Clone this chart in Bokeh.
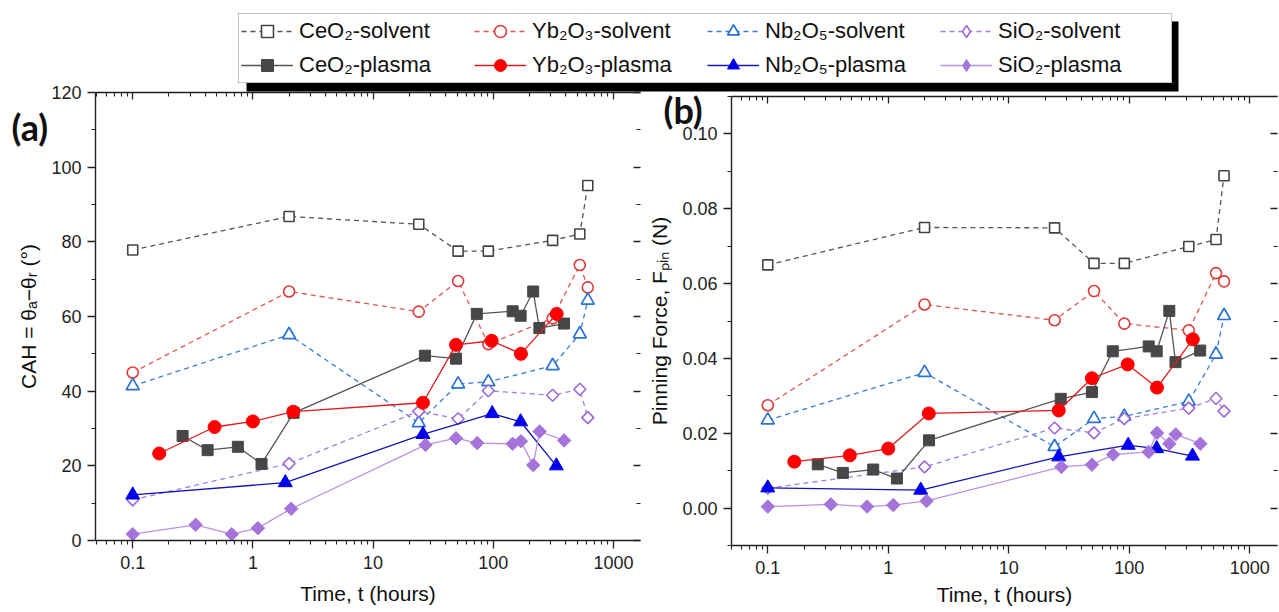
import math
from bokeh.plotting import figure
from bokeh.models import (Range1d, LinearAxis, LogAxis, FixedTicker, CustomJSTickFormatter,
                          PrintfTickFormatter, Legend, LegendItem, BoxAnnotation, Label, GridBox)
from bokeh.embed import file_html
from bokeh.resources import INLINE

# ---------------- data ----------------
t_solvent = [0.1, 2, 24, 51, 91, 312, 525, 612]
t_ceo2_plasma = [0.26, 0.42, 0.75, 1.18, 2.18, 27, 49, 73, 145, 169, 215, 242, 388]
t_yb2o3_plasma = [0.166, 0.48, 1.0, 2.17, 26, 49, 97, 170, 337]
t_nb2o5_plasma = [0.1, 1.86, 26, 98, 169, 335]
t_sio2_plasma = [0.1, 0.334, 0.667, 1.1, 2.08, 27.3, 49, 73.5, 145, 170, 215, 243, 389]

# (a) contact angle hysteresis, degrees
cah_ceo2_solvent = [77.8, 86.8, 84.7, 77.5, 77.5, 80.4, 82.1, 95.1]
cah_yb2o3_solvent = [45.0, 66.7, 61.3, 69.5, 52.6, 59.5, 73.8, 67.8]
cah_nb2o5_solvent = [41.4, 55.1, 31.5, 41.9, 42.5, 46.8, 55.3, 64.3]
cah_sio2_solvent = [10.9, 20.6, 34.6, 32.6, 40.1, 38.9, 40.5, 32.9]
cah_ceo2_plasma = [28.0, 24.2, 25.1, 20.5, 34.2, 49.5, 48.7, 60.7, 61.4, 60.2, 66.7, 56.9, 58.1]
cah_yb2o3_plasma = [23.3, 30.4, 31.9, 34.5, 36.9, 52.4, 53.5, 50.0, 60.7]
cah_nb2o5_plasma = [12.2, 15.5, 28.4, 34.0, 31.8, 20.0]
cah_sio2_plasma = [1.7, 4.2, 1.7, 3.3, 8.5, 25.6, 27.4, 26.1, 25.9, 26.6, 20.2, 29.2, 26.8]

# (b) pinning force, N
fpin_ceo2_solvent = [0.0650, 0.0750, 0.0749, 0.0654, 0.0654, 0.0699, 0.0718, 0.0888]
fpin_yb2o3_solvent = [0.0275, 0.0544, 0.0502, 0.0580, 0.0493, 0.0475, 0.0628, 0.0606]
fpin_nb2o5_solvent = [0.0235, 0.0362, 0.0164, 0.0239, 0.0245, 0.0285, 0.0411, 0.0514]
fpin_sio2_solvent = [0.0053, 0.0110, 0.0214, 0.0201, 0.0239, 0.0267, 0.0293, 0.0259]
fpin_ceo2_plasma = [0.0117, 0.0094, 0.0103, 0.0079, 0.0181, 0.0292, 0.0310, 0.0419, 0.0432,
                    0.0419, 0.0527, 0.0390, 0.0421]
fpin_yb2o3_plasma = [0.0124, 0.0141, 0.0159, 0.0253, 0.0261, 0.0347, 0.0384, 0.0322, 0.0451]
fpin_nb2o5_plasma = [0.0054, 0.0048, 0.0137, 0.0168, 0.0159, 0.0139]
fpin_sio2_plasma = [0.0004, 0.0010, 0.0004, 0.0008, 0.0019, 0.0110, 0.0116, 0.0143, 0.0150,
                    0.0201, 0.0172, 0.0197, 0.0172]

series_names = ["CeO₂-solvent", "Yb₂O₃-solvent", "Nb₂O₅-solvent", "SiO₂-solvent",
                "CeO₂-plasma", "Yb₂O₃-plasma", "Nb₂O₅-plasma", "SiO₂-plasma"]
panel_tags = ["(a)", "(b)"]

x_major = [0.1, 1, 10, 100, 1000]
x_minor = [0.05, 0.06, 0.07, 0.08, 0.09,
           0.2, 0.3, 0.4, 0.5, 0.6, 0.7, 0.8, 0.9,
           2, 3, 4, 5, 6, 7, 8, 9,
           20, 30, 40, 50, 60, 70, 80, 90,
           200, 300, 400, 500, 600, 700, 800, 900]
ya_major = [0, 20, 40, 60, 80, 100, 120]
ya_minor = [10, 30, 50, 70, 90, 110]
yb_major = [0.0, 0.02, 0.04, 0.06, 0.08, 0.10]
yb_minor = [-0.01, 0.01, 0.03, 0.05, 0.07, 0.09, 0.11]

# ---------------- styles ----------------
D45 = math.pi / 4
STY = {
    "CeO₂-solvent":  dict(lc="#555555", dash="5 4", m="square", ms=10, ang=0, fc="white", mc="#444444", mlw=1.6),
    "Yb₂O₃-solvent": dict(lc="#e05555", dash="5 4", m="circle", ms=11, ang=0, fc="white", mc="#e03a3a", mlw=1.6),
    "Nb₂O₅-solvent": dict(lc="#3a7dd0", dash="5 4", m="triangle", ms=13, ang=0, fc="white", mc="#2b72d2", mlw=1.7),
    "SiO₂-solvent":  dict(lc="#a47ddf", dash="5 4", m="square", ms=8.5, ang=D45, fc="white", mc="#9c6ad8", mlw=1.6,
                          lm="diamond", lms=13),
    "CeO₂-plasma":   dict(lc="#555555", dash="solid", m="square", ms=11, ang=0, fc="#474747", mc="#474747", mlw=1),
    "Yb₂O₃-plasma":  dict(lc="#e01a1a", dash="solid", m="circle", ms=13, ang=0, fc="#ff0000", mc="#ff0000", mlw=1),
    "Nb₂O₅-plasma":  dict(lc="#1414b4", dash="solid", m="triangle", ms=14, ang=0, fc="#0000ee", mc="#0000ee", mlw=1),
    "SiO₂-plasma":   dict(lc="#b594e4", dash="solid", m="square", ms=9.5, ang=D45, fc="#a574da", mc="#a574da", mlw=1,
                          lm="diamond", lms=15),
}

FONT = "Liberation Sans"
INK = "#222222"


def draw(p, name, t, v, legend_proxy=False):
    s = STY[name]
    marker, size, ang = s["m"], s["ms"], s["ang"]
    if legend_proxy and "lm" in s:
        marker, size, ang = s["lm"], s["lms"], 0
    lr = p.line(t, v, line_color=s["lc"], line_dash=s["dash"], line_width=1.3)
    sr = p.scatter(t, v, marker=marker, size=size, angle=ang, fill_color=s["fc"],
                   line_color=s["mc"], line_width=s["mlw"])
    return lr, sr


def style_axis(ax, labels=True):
    ax.axis_line_color = INK
    ax.axis_line_width = 1.4
    ax.major_tick_line_color = INK
    ax.minor_tick_line_color = INK
    ax.major_tick_line_width = 1.3
    ax.minor_tick_line_width = 1.1
    ax.major_tick_out = 8
    ax.major_tick_in = 0
    ax.minor_tick_out = 4
    ax.minor_tick_in = 0
    ax.major_label_text_font = FONT
    ax.major_label_text_font_size = "18px"
    ax.major_label_text_color = INK
    ax.axis_label_text_font = FONT
    ax.axis_label_text_font_size = "21px"
    ax.axis_label_text_font_style = "normal"
    ax.axis_label_text_color = "#111111"
    if not labels:
        ax.major_label_text_font_size = "1px"
        ax.major_label_text_color = None
        ax.major_label_standoff = 0
        ax.major_tick_out = 0
        ax.minor_tick_out = 0
        ax.major_tick_in = 7
        ax.minor_tick_in = 4


def make_panel(xr, yr, ymaj, ymin, yfmt, ylabel, border, xlab_standoff):
    p = figure(width=border["w"], height=612, x_axis_type="log",
               x_range=Range1d(*xr), y_range=Range1d(*yr),
               output_backend="svg", toolbar_location=None,
               min_border_left=border["l"], min_border_right=border["r"],
               min_border_top=border["t"], min_border_bottom=border["b"])
    p.frame_align = False
    p.outline_line_color = None
    p.xgrid.visible = False
    p.ygrid.visible = False
    xt = FixedTicker(ticks=x_major, minor_ticks=x_minor)
    yt = FixedTicker(ticks=ymaj, minor_ticks=ymin)
    xa = p.xaxis[0]
    xa.ticker = xt
    xa.formatter = CustomJSTickFormatter(code="return String(Number(tick.toPrecision(6)));")
    xa.axis_label = "Time, t (hours)"
    style_axis(xa)
    xa.major_label_standoff = 7
    xa.axis_label_standoff = xlab_standoff
    ya = p.yaxis[0]
    ya.ticker = yt
    ya.formatter = yfmt
    ya.axis_label = ylabel
    style_axis(ya)
    ya.major_label_standoff = 6
    ya.axis_label_standoff = 8
    top = LogAxis(ticker=xt)
    style_axis(top, labels=False)
    p.add_layout(top, "above")
    right = LinearAxis(ticker=yt)
    style_axis(right, labels=False)
    right.axis_line_color = None
    p.add_layout(right, "right")
    return p


pa = make_panel((0.049, 1680), (0, 120), ya_major, ya_minor, PrintfTickFormatter(format="%d"),
                "CAH = θₐ−θᵣ (°)", dict(w=645, l=95, r=5, t=92, b=72), 10)
pb = make_panel((0.05, 1700), (-0.01, 0.11), yb_major, yb_minor, PrintfTickFormatter(format="%.2f"),
                "Pinning Force, Fₚᵢₙ (N)", dict(w=634, l=85, r=2, t=96, b=67), 6)

t_sets = [t_solvent] * 4 + [t_ceo2_plasma, t_yb2o3_plasma, t_nb2o5_plasma, t_sio2_plasma]
a_sets = [cah_ceo2_solvent, cah_yb2o3_solvent, cah_nb2o5_solvent, cah_sio2_solvent,
          cah_ceo2_plasma, cah_yb2o3_plasma, cah_nb2o5_plasma, cah_sio2_plasma]
b_sets = [fpin_ceo2_solvent, fpin_yb2o3_solvent, fpin_nb2o5_solvent, fpin_sio2_solvent,
          fpin_ceo2_plasma, fpin_yb2o3_plasma, fpin_nb2o5_plasma, fpin_sio2_plasma]

for name, t, va, vb in zip(series_names, t_sets, a_sets, b_sets):
    draw(pa, name, t, va)
    draw(pb, name, t, vb)

# ---------------- transparent overlay: shared legend and panel tags ----------------
ov = figure(width=1279, height=612, x_range=Range1d(0, 1279), y_range=Range1d(612, 0),
            output_backend="svg", toolbar_location=None,
            x_axis_location=None, y_axis_location=None,
            min_border_left=0, min_border_right=0, min_border_top=0, min_border_bottom=0,
            background_fill_color=None, border_fill_color=None)
ov.frame_align = False
ov.outline_line_color = None
ov.xgrid.visible = False
ov.ygrid.visible = False
# legend drop shadow (overlay pixel space)
ov.add_layout(BoxAnnotation(left=246, right=1178, top=21, bottom=91,
                            fill_color="black", fill_alpha=1, line_color=None))
items = []
for name in series_names:
    # legend proxies placed outside the visible area
    lr, sr = draw(ov, name, [-500, -400], [-500, -500], legend_proxy=True)
    items.append(LegendItem(label=name, renderers=[lr, sr]))
leg = Legend(items=items, orientation="horizontal", ncols=4, location=(238, 529),
             glyph_width=52, glyph_height=30, label_width=171, label_height=30,
             label_standoff=6, spacing=4, padding=2, margin=0,
             label_text_font=FONT, label_text_font_size="22px", label_text_color="#111111",
             border_line_color="#888888", border_line_width=1,
             background_fill_color="white", background_fill_alpha=1)
ov.add_layout(leg, "center")
for tag, (tx, ty) in zip(panel_tags, [(11, 126), (663, 109)]):
    ov.add_layout(Label(x=tx, y=ty, text=tag, text_font="Lato", text_font_style="bold",
                        text_font_size="36px", text_color="#111111",
                        text_baseline="middle", text_align="left"))

layout = GridBox(children=[(pa, 0, 0), (pb, 0, 1), (ov, 0, 0, 1, 2)], spacing=0)
open("out.html", "w").write(file_html(layout, INLINE))
